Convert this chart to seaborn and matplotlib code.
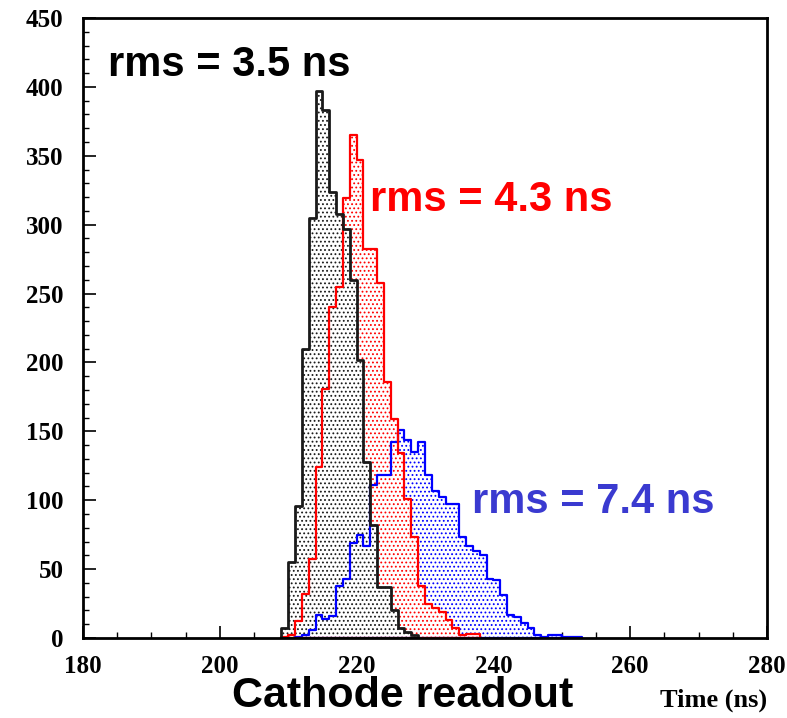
import numpy as np
import pandas as pd
import matplotlib
matplotlib.use("Agg")
import matplotlib.pyplot as plt
import seaborn as sns

# ---- data (counts per 1 ns bin, bin start in ns) ----
black_bins = list(range(209, 229))
black_counts = [7, 55, 96, 210, 305, 397, 383, 324, 308, 297,
                260, 202, 128, 82, 37, 37, 20, 7, 4, 2]

red_bins = list(range(209, 238))
red_counts = [1, 2, 12, 32, 57, 124, 181, 240, 255, 319,
              365, 347, 282, 282, 258, 186, 159, 134, 101, 73,
              38, 25, 22, 19, 13, 7, 2, 3, 3]

blue_bins = list(range(211, 253))
blue_counts = [0.5, 2, 6, 17, 14, 16, 38, 43, 69, 75,
               67, 111, 118, 118, 142, 151, 144, 135, 142, 118,
               107, 102, 97, 97, 73, 67, 63, 60, 43, 42,
               31, 17, 15, 11, 7, 2, 1, 2, 2, 1,
               1, 1]

rms_labels = ["rms = 3.5 ns", "rms = 4.3 ns", "rms = 7.4 ns"]
x_label = "Time (ns)"
title_label = "Cathode readout"

sns.set_theme(style="white")
plt.rcParams["hatch.linewidth"] = 0.8

fig = plt.figure(figsize=(7.87, 7.18), dpi=100)
ax = fig.add_axes([83 / 787, 80 / 718, (767 - 83) / 787, (638 - 18) / 718])

series = [
    (blue_bins, blue_counts, "#0000ff", 1.6),
    (red_bins, red_counts, "#ff0000", 1.6),
    (black_bins, black_counts, "#1a1a1a", 2.0),
]
frames = []
for bins, counts, color, lw in series:
    df = pd.DataFrame({"t": np.array(bins) + 0.5, "n": counts})
    edges = list(bins) + [bins[-1] + 1]
    frames.append((df, edges, color, lw))

# hatched fills (later ones cover earlier ones)
for i, (df, edges, color, lw) in enumerate(frames):
    sns.histplot(data=df, x="t", weights="n", bins=edges, element="step",
                 fill=True, color=color, ax=ax)
    poly = ax.collections[-1]
    poly.set_facecolor("white")
    poly.set_alpha(None)
    poly.set_edgecolor(color)
    poly.set_hatch("....")
    poly.set_linewidth(0)
    poly.set_zorder(1 + 0.1 * i)

# outlines on top of all fills
for df, edges, color, lw in frames:
    sns.histplot(data=df, x="t", weights="n", bins=edges, element="step",
                 fill=True, color=color, ax=ax)
    poly = ax.collections[-1]
    poly.set_facecolor("none")
    poly.set_edgecolor(color)
    poly.set_linewidth(lw)
    poly.set_zorder(2)

ax.set_xlim(180, 280)
ax.set_ylim(0, 450)
ax.set_xlabel("")
ax.set_ylabel("")
ax.set_xticks(np.arange(180, 281, 20))
ax.set_xticks(np.arange(180, 281, 5), minor=True)
ax.set_yticks(np.arange(0, 451, 50))
ax.set_yticks(np.arange(0, 451, 10), minor=True)
ax.tick_params(axis="both", which="both", direction="in", top=False, right=False,
               left=True, bottom=True, colors="black")
ax.tick_params(axis="both", which="major", length=9, width=1.2)
ax.tick_params(axis="y", which="major", pad=14)
ax.tick_params(axis="x", which="major", pad=12)
ax.tick_params(axis="both", which="minor", length=4.5, width=1.0)
for lab in ax.get_xticklabels() + ax.get_yticklabels():
    lab.set_fontfamily("Liberation Serif")
    lab.set_fontweight("bold")
    lab.set_fontsize(18)
for sp in ax.spines.values():
    sp.set_color("black")
    sp.set_linewidth(2.0)
    sp.set_zorder(3)

fig.text(108 / 787, 1 - 65 / 718, rms_labels[0], color="black",
         fontsize=30, fontweight="bold", family="Liberation Sans", va="center", ha="left")
fig.text(370 / 787, 1 - 200 / 718, rms_labels[1], color="#ff0000",
         fontsize=30, fontweight="bold", family="Liberation Sans", va="center", ha="left")
fig.text(472 / 787, 1 - 502 / 718, rms_labels[2], color="#3a3ad0",
         fontsize=30, fontweight="bold", family="Liberation Sans", va="center", ha="left")
fig.text(403 / 787, 2 / 718, title_label, color="black",
         fontsize=31, fontweight="bold", family="Liberation Sans",
         va="bottom", ha="center")
fig.text(767 / 787, 1 - 700 / 718, x_label, color="black",
         fontsize=19, fontweight="bold", family="Liberation Serif", va="center", ha="right")

fig.savefig("out.png", dpi=100, facecolor="white")
